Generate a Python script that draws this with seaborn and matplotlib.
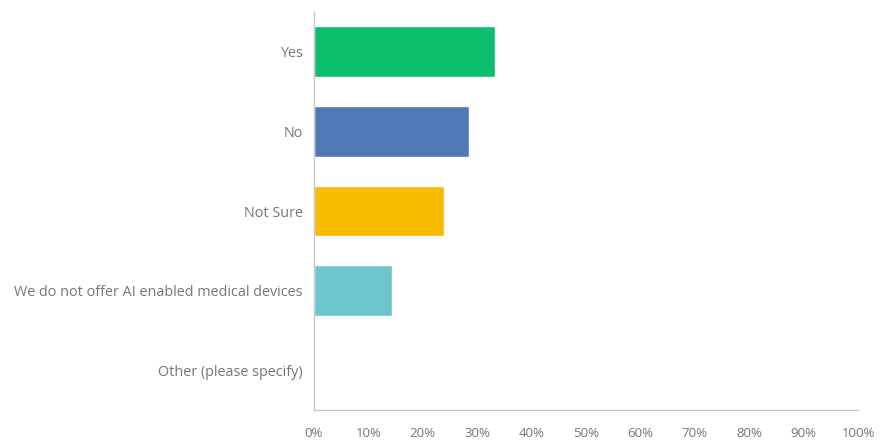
import matplotlib
matplotlib.use("Agg")
import matplotlib.pyplot as plt
from matplotlib.ticker import FixedLocator, PercentFormatter
import seaborn as sns
import pandas as pd

categories = ["Yes", "No", "Not Sure",
              "We do not offer AI enabled medical devices",
              "Other (please specify)"]
shares = [33.33, 28.57, 23.81, 14.29, 0.0]
colors = ["#0BBF6C", "#5079B5", "#F8BB00", "#6CC6CC", "#A0A0A0"]
x_ticks = [0, 10, 20, 30, 40, 50, 60, 70, 80, 90, 100]

df = pd.DataFrame({"answer": categories, "share": shares})

sns.set_style("white")
plt.rcParams["font.family"] = ["Open Sans", "DejaVu Sans"]

fig = plt.figure(figsize=(8.81, 4.41), dpi=100)
ax = fig.add_axes([314 / 881, 31 / 441, 544 / 881, 398 / 441])

sns.barplot(data=df, y="answer", x="share", hue="answer", palette=colors,
            order=categories, hue_order=categories, legend=False,
            width=0.64, saturation=1, ax=ax)

ax.set_xlim(0, 100)
ax.set_ylim(len(categories) - 0.5, -0.5)
ax.set_xticks(x_ticks)
ax.xaxis.set_major_formatter(PercentFormatter(decimals=0))
ax.set_xlabel("")
ax.set_ylabel("")

for side in ["top", "right"]:
    ax.spines[side].set_visible(False)
for side in ["left", "bottom"]:
    ax.spines[side].set_color("#C8C8C8")
    ax.spines[side].set_linewidth(1.0)

ax.tick_params(axis="x", colors="#C8C8C8", labelcolor="#767676",
               labelsize=9.5, direction="inout", length=6, width=1, pad=9)
ax.tick_params(axis="y", which="major", length=0, labelcolor="#767676",
               labelsize=10.4, pad=8)
ax.yaxis.set_minor_locator(FixedLocator([i - 0.5 for i in range(len(categories) + 1)]))
ax.tick_params(axis="y", which="minor", length=4, direction="out",
               color="#C8C8C8", width=1)

fig.savefig("out.png", dpi=100)
